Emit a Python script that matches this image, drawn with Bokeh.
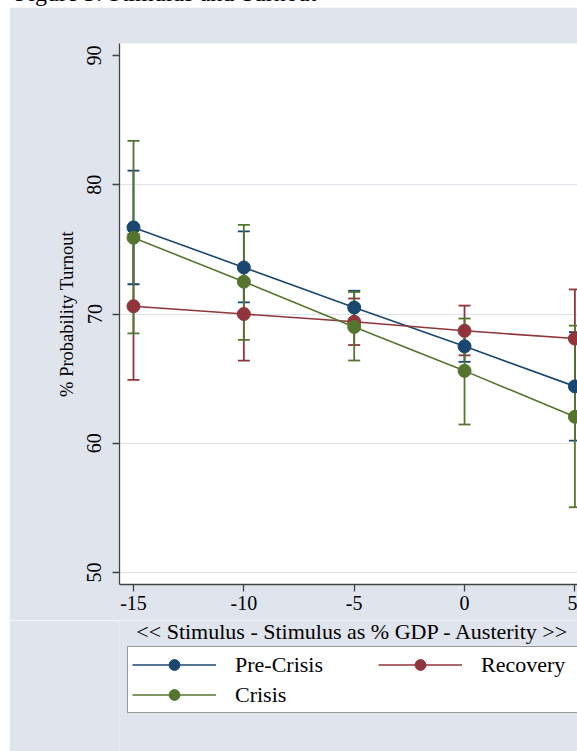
from bokeh.plotting import figure
from bokeh.models import (Whisker, ColumnDataSource, Legend, LegendItem, Range1d,
                          FixedTicker, Div, TeeHead, Label)
from bokeh.layouts import column
from bokeh.embed import file_html
from bokeh.resources import INLINE

# ---- data ----
stimulus = [-15, -10, -5, 0, 5]

pre_crisis = [76.7, 73.6, 70.5, 67.5, 64.4]
pre_crisis_lo = [72.3, 70.9, 69.3, 66.3, 60.2]
pre_crisis_hi = [81.1, 76.4, 71.8, 68.7, 68.6]

recovery = [70.6, 70.0, 69.4, 68.7, 68.1]
recovery_lo = [64.9, 66.4, 67.6, 66.8, 64.3]
recovery_hi = [76.2, 73.6, 71.2, 70.65, 71.9]

crisis = [75.9, 72.5, 69.0, 65.6, 62.05]
crisis_lo = [68.5, 68.0, 66.4, 61.45, 55.05]
crisis_hi = [83.4, 76.9, 71.7, 69.65, 69.1]

y_ticks = [50, 60, 70, 80, 90]
y_grid = [50, 60, 70, 80]
x_ticks = [-15, -10, -5, 0, 5]
x_tick_labels = ["-15", "-10", "-5", "0", "5"]

series_names = ["Pre-Crisis", "Recovery", "Crisis"]
x_title = "<< Stimulus - Stimulus as % GDP -  Austerity >>"
y_title = "% Probability Turnout"
caption = "Figure 3: Stimulus and Turnout"

# ---- styling ----
BG = "#dfe4ed"
FONT = "Liberation Serif"
colors = {"Pre-Crisis": "#1a476f", "Recovery": "#90353b", "Crisis": "#55752f"}

data = {
    "Pre-Crisis": (pre_crisis, pre_crisis_lo, pre_crisis_hi),
    "Recovery": (recovery, recovery_lo, recovery_hi),
    "Crisis": (crisis, crisis_lo, crisis_hi),
}

# ---------------- main plot ----------------
p = figure(width=568, height=613, output_backend="svg", toolbar_location=None,
           x_range=Range1d(-15.634, 5.118), y_range=Range1d(49.07, 90.93),
           min_border_left=110, min_border_right=0, min_border_top=36,
           min_border_bottom=36)
p.margin = (0, 0, 0, 9)
p.border_fill_color = BG
p.background_fill_color = "white"
p.outline_line_color = None

p.xgrid.grid_line_color = None
p.ygrid.ticker = FixedTicker(ticks=y_grid)
p.ygrid.grid_line_color = "#dfe4ec"
p.ygrid.grid_line_width = 1

p.xaxis.ticker = FixedTicker(ticks=x_ticks)
p.xaxis.major_label_overrides = {t: s for t, s in zip(x_ticks, x_tick_labels)}
p.yaxis.ticker = FixedTicker(ticks=y_ticks)
for ax in (p.xaxis, p.yaxis):
    ax.axis_line_color = "#444444"
    ax.axis_line_width = 1.3
    ax.major_tick_line_color = "#444444"
    ax.major_tick_line_width = 1.3
    ax.major_tick_out = 7
    ax.major_tick_in = 0
    ax.minor_tick_line_color = None
    ax.major_label_text_font = FONT
    ax.major_label_text_font_size = "20px"
    ax.major_label_text_color = "black"
    ax.axis_label_text_font = FONT
    ax.axis_label_text_font_style = "normal"
    ax.axis_label_text_color = "black"

p.xaxis.major_label_standoff = 4
p.yaxis.axis_label = y_title
p.yaxis.axis_label_text_font_size = "18.5px"
p.yaxis.major_label_orientation = "vertical"
p.yaxis.major_label_standoff = 11
p.yaxis.axis_label_standoff = 8

# error bars (red first, then blue, then green)
for name in ["Recovery", "Pre-Crisis", "Crisis"]:
    y, lo, hi = data[name]
    c = colors[name]
    src = ColumnDataSource(dict(x=stimulus, lo=lo, hi=hi))
    w = Whisker(source=src, base="x", lower="lo", upper="hi",
                line_color=c, line_width=1.8,
                upper_head=TeeHead(size=12, line_color=c, line_width=1.8),
                lower_head=TeeHead(size=12, line_color=c, line_width=1.8))
    p.add_layout(w)

for name in series_names:
    y, lo, hi = data[name]
    c = colors[name]
    src = ColumnDataSource(dict(x=stimulus, y=y))
    p.line("x", "y", source=src, line_color=c, line_width=1.6)
    p.scatter("x", "y", source=src, marker="circle", size=13,
              fill_color=c, line_color=c)

# ---------------- lower strip: x title + legend ----------------
# its frame is aligned with the main frame (left edge at page x = 119)
q = figure(width=568, height=131, output_backend="svg", toolbar_location=None,
           x_range=Range1d(1000, 1001), y_range=Range1d(1000, 1001),
           x_axis_location=None, y_axis_location=None,
           min_border_left=110, min_border_right=0, min_border_top=0,
           min_border_bottom=0)
q.margin = (0, 0, 0, 9)
q.grid.visible = False
q.border_fill_color = BG
q.background_fill_color = BG
q.outline_line_color = None

q.add_layout(Label(x=236, y=120, x_units="screen", y_units="screen",
                   text=x_title, text_align="center", text_baseline="middle",
                   text_font=FONT, text_font_size="22px", text_color="black"))

items = {}
for name in series_names:
    y, lo, hi = data[name]
    c = colors[name]
    # same series, drawn outside this strip's view: only their legend glyphs show
    src = ColumnDataSource(dict(x=stimulus, y=y))
    lr = q.line("x", "y", source=src, line_color=c, line_width=1.6)
    cr = q.scatter("x", "y", source=src, marker="circle", size=13,
                   fill_color=c, line_color=c)
    items[name] = LegendItem(label=name, renderers=[lr, cr])

legend = Legend(items=[items["Pre-Crisis"], items["Recovery"], items["Crisis"]],
                orientation="horizontal", nrows=2)
legend.location = (8, 38)
legend.margin = 0
legend.padding = 4
legend.spacing = 3
legend.glyph_width = 84
legend.glyph_height = 27
legend.label_height = 27
legend.label_width = 140
legend.label_standoff = 19
legend.label_text_font = FONT
legend.label_text_font_size = "22px"
legend.label_text_color = "black"
legend.border_line_color = "#333333"
legend.border_line_width = 1
legend.background_fill_color = "white"
legend.background_fill_alpha = 1
q.add_layout(legend)

cap = Div(text=('<div style="position:relative; top:-19px; left:15px; '
                'font-family:\'Liberation Serif\'; font-size:24px; line-height:24px; '
                'white-space:nowrap; color:black">' + caption + '</div>'),
          width=577, height=7,
          styles={"overflow": "hidden", "background-color": "white"})
cap.margin = 0

layout = column(cap, p, q, spacing=0)

open("out.html", "w").write(file_html(layout, INLINE))
